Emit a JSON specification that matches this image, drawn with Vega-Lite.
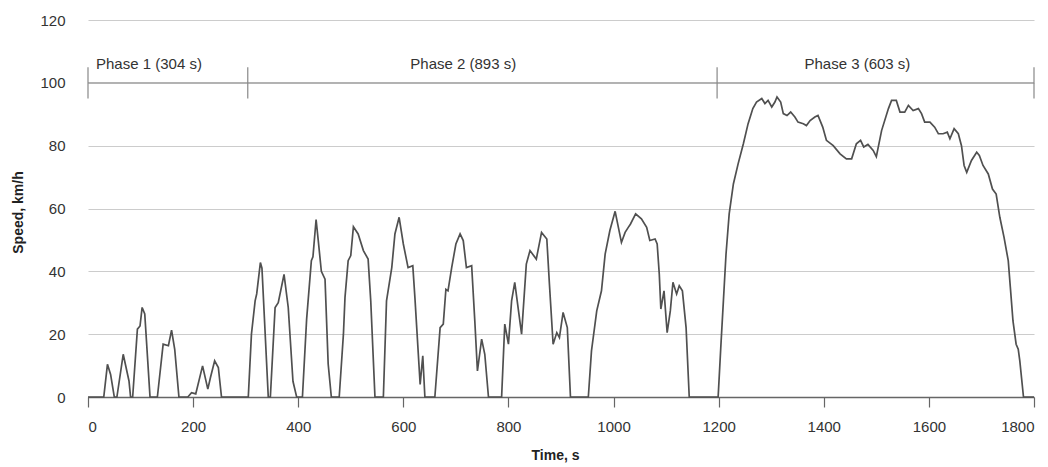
{
  "$schema": "https://vega.github.io/schema/vega-lite/v6.json",
  "width": 946,
  "height": 377,
  "autosize": {"type": "none"},
  "padding": {"left": 88, "top": 20, "right": 14, "bottom": 70},
  "background": "white",
  "config": {
    "view": {"stroke": null},
    "font": "Liberation Sans",
    "axis": {"labelFont": "Liberation Sans", "titleFont": "Liberation Sans"}
  },
  "datasets": {
    "speed": [
      {"t":0,"v":0},{"t":30,"v":0},{"t":37,"v":10.4},{"t":43,"v":7.2},{"t":50,"v":0},{"t":55,"v":0},{"t":67,"v":13.6},{"t":78,"v":5.1},{"t":81,"v":0},{"t":85,"v":0},
      {"t":94,"v":21.6},{"t":99,"v":22.6},{"t":103,"v":28.5},{"t":108,"v":26.4},{"t":118,"v":0},{"t":132,"v":0},{"t":143,"v":16.8},{"t":153,"v":16.3},{"t":159,"v":21.3},{"t":165,"v":15.2},
      {"t":173,"v":0},{"t":190,"v":0},{"t":197,"v":1.4},{"t":205,"v":1},{"t":218,"v":9.9},{"t":228,"v":2.5},{"t":233,"v":6.2},{"t":241,"v":11.5},{"t":248,"v":9.4},{"t":254,"v":0},
      {"t":305,"v":0},{"t":311,"v":20},{"t":318,"v":30.6},{"t":321,"v":32.8},{"t":328,"v":42.8},{"t":331,"v":41},{"t":343,"v":0},{"t":347,"v":0},{"t":356,"v":28.5},{"t":362,"v":30},
      {"t":373,"v":39},{"t":381,"v":28.5},{"t":390,"v":5},{"t":397,"v":0},{"t":408,"v":0},{"t":416,"v":24.8},{"t":425,"v":43.4},{"t":428,"v":44.6},{"t":434,"v":56.5},{"t":438,"v":50},
      {"t":444,"v":40},{"t":451,"v":37.5},{"t":457,"v":10.5},{"t":463,"v":0},{"t":478,"v":0},{"t":486,"v":20},{"t":489,"v":31.7},{"t":495,"v":43.4},{"t":500,"v":45},{"t":505,"v":54.2},
      {"t":514,"v":51.9},{"t":524,"v":46.6},{"t":533,"v":43.9},{"t":538,"v":30.6},{"t":546,"v":0},{"t":562,"v":0},{"t":568,"v":30.6},{"t":578,"v":41.2},{"t":584,"v":51.9},{"t":592,"v":57.2},
      {"t":600,"v":48.7},{"t":609,"v":41.2},{"t":618,"v":41.8},{"t":622,"v":31.7},{"t":632,"v":4},{"t":637,"v":13.1},{"t":641,"v":0},{"t":660,"v":0},{"t":670,"v":22.1},{"t":676,"v":23.2},
      {"t":681,"v":34.3},{"t":685,"v":33.8},{"t":692,"v":41.2},{"t":700,"v":48.7},{"t":708,"v":51.9},{"t":714,"v":49.8},{"t":720,"v":41.2},{"t":730,"v":41.8},{"t":736,"v":24.2},{"t":741,"v":8.3},
      {"t":749,"v":18.4},{"t":755,"v":13.6},{"t":762,"v":0},{"t":787,"v":0},{"t":793,"v":23.2},{"t":800,"v":16.8},{"t":806,"v":30.6},{"t":812,"v":36.5},{"t":825,"v":20},{"t":834,"v":42.3},
      {"t":841,"v":46.6},{"t":853,"v":43.9},{"t":863,"v":52.4},{"t":873,"v":50.3},{"t":878,"v":35.9},{"t":885,"v":16.8},{"t":892,"v":20.5},{"t":897,"v":18.9},{"t":904,"v":26.9},{"t":912,"v":22.1},
      {"t":918,"v":0},{"t":952,"v":0},{"t":958,"v":14.7},{"t":968,"v":27.4},{"t":977,"v":33.8},{"t":984,"v":45.5},{"t":993,"v":53},{"t":1003,"v":59.1},{"t":1015,"v":49.2},{"t":1022,"v":52.4},
      {"t":1028,"v":54},{"t":1032,"v":55},{"t":1042,"v":58.3},{"t":1053,"v":56.7},{"t":1063,"v":54},{"t":1069,"v":49.8},{"t":1079,"v":50.3},{"t":1083,"v":48.7},{"t":1087,"v":39.1},{"t":1090,"v":28},
      {"t":1096,"v":33.8},{"t":1102,"v":20.5},{"t":1108,"v":27.4},{"t":1113,"v":36.5},{"t":1120,"v":32.8},{"t":1125,"v":35.4},{"t":1131,"v":33.8},{"t":1138,"v":22.1},{"t":1144,"v":0},{"t":1199,"v":0},
      {"t":1204,"v":15.7},{"t":1209,"v":30.6},{"t":1214,"v":45.5},{"t":1220,"v":58.3},{"t":1228,"v":67.8},{"t":1237,"v":74.2},{"t":1247,"v":80.6},{"t":1256,"v":87},{"t":1265,"v":91.8},{"t":1272,"v":93.9},
      {"t":1282,"v":95},{"t":1288,"v":93.4},{"t":1294,"v":94.4},{"t":1301,"v":92.3},{"t":1307,"v":93.9},{"t":1311,"v":95.5},{"t":1318,"v":93.9},{"t":1323,"v":90.2},{"t":1330,"v":89.6},{"t":1337,"v":90.7},
      {"t":1345,"v":89.1},{"t":1351,"v":87.5},{"t":1361,"v":87},{"t":1367,"v":86.4},{"t":1374,"v":88},{"t":1383,"v":89.1},{"t":1389,"v":89.6},{"t":1398,"v":85.9},{"t":1405,"v":81.7},{"t":1418,"v":80},
      {"t":1431,"v":77.4},{"t":1443,"v":75.8},{"t":1453,"v":75.8},{"t":1462,"v":80.6},{"t":1470,"v":81.7},{"t":1476,"v":79.6},{"t":1484,"v":80.4},{"t":1494,"v":78.5},{"t":1500,"v":76.5},{"t":1510,"v":84.8},
      {"t":1523,"v":91.8},{"t":1529,"v":94.4},{"t":1538,"v":94.4},{"t":1545,"v":90.7},{"t":1554,"v":90.7},{"t":1561,"v":92.8},{"t":1570,"v":91.2},{"t":1580,"v":91.8},{"t":1586,"v":90.2},{"t":1592,"v":87.5},
      {"t":1602,"v":87.5},{"t":1611,"v":85.9},{"t":1618,"v":83.8},{"t":1627,"v":83.8},{"t":1635,"v":84.3},{"t":1640,"v":82.2},{"t":1648,"v":85.4},{"t":1656,"v":83.8},{"t":1662,"v":80},{"t":1667,"v":73.7},
      {"t":1672,"v":71.5},{"t":1681,"v":75.3},{"t":1691,"v":77.9},{"t":1696,"v":76.9},{"t":1703,"v":73.7},{"t":1713,"v":71},{"t":1721,"v":66.2},{"t":1728,"v":64.6},{"t":1735,"v":57.2},{"t":1743,"v":50.8},
      {"t":1751,"v":43.4},{"t":1755,"v":34.9},{"t":1760,"v":24.2},{"t":1766,"v":16.8},{"t":1770,"v":15.2},{"t":1773,"v":11.5},{"t":1780,"v":0},{"t":1800,"v":0}
    ],
    "bounds": [{"t": 0}, {"t": 304}, {"t": 1197}, {"t": 1800}],
    "phases": [
      {"label": "Phase 1 (304 s)", "t": 116},
      {"label": "Phase 2 (893 s)", "t": 714},
      {"label": "Phase 3 (603 s)", "t": 1464}
    ]
  },
  "layer": [
    {
      "data": {"name": "speed"},
      "mark": {"type": "line", "color": "#505050", "strokeWidth": 1.7, "interpolate": "linear"},
      "encoding": {
        "x": {
          "field": "t", "type": "quantitative",
          "scale": {"domain": [0, 1800], "nice": false, "zero": false},
          "axis": {
            "title": "Time, s", "values": [0,200,400,600,800,1000,1200,1400,1600,1800], "format": "d",
            "grid": false, "domainColor": "#666666", "domainWidth": 1.5,
            "tickColor": "#666666", "tickSize": 10, "tickWidth": 1.2,
            "labelFontSize": 15, "labelColor": "#333333", "labelPadding": 12,
            "titleFontSize": 14, "titleFontWeight": "bold", "titleColor": "#222222",
            "titleX": 467, "titleY": 58, "titleBaseline": "middle"
          }
        },
        "y": {
          "field": "v", "type": "quantitative",
          "scale": {"domain": [0, 120], "nice": false},
          "axis": {
            "title": "Speed, km/h", "values": [0,20,40,60,80,100,120],
            "grid": true, "gridColor": "#cccccc", "gridWidth": 1.2,
            "domain": false, "ticks": false,
            "labelFontSize": 15, "labelColor": "#333333", "labelPadding": 23,
            "titleFontSize": 14, "titleFontWeight": "bold", "titleColor": "#222222",
            "titleX": -70, "titleY": 192, "titleBaseline": "middle", "titleAngle": -90
          }
        }
      }
    },
    {
      "data": {"values": [{}]},
      "mark": {"type": "rule", "color": "#999999", "strokeWidth": 1.2},
      "encoding": {
        "x": {"datum": 0, "type": "quantitative"},
        "x2": {"datum": 1800},
        "y": {"datum": 100, "type": "quantitative"}
      }
    },
    {
      "data": {"name": "bounds"},
      "mark": {"type": "rule", "color": "#888888", "strokeWidth": 1.2},
      "encoding": {
        "x": {"field": "t", "type": "quantitative"},
        "y": {"datum": 95, "type": "quantitative"},
        "y2": {"datum": 105}
      }
    },
    {
      "data": {"name": "phases"},
      "mark": {"type": "text", "fontSize": 15, "color": "#333333", "align": "center", "baseline": "middle", "font": "Liberation Sans"},
      "encoding": {
        "x": {"field": "t", "type": "quantitative"},
        "y": {"datum": 106, "type": "quantitative"},
        "text": {"field": "label"}
      }
    }
  ]
}
